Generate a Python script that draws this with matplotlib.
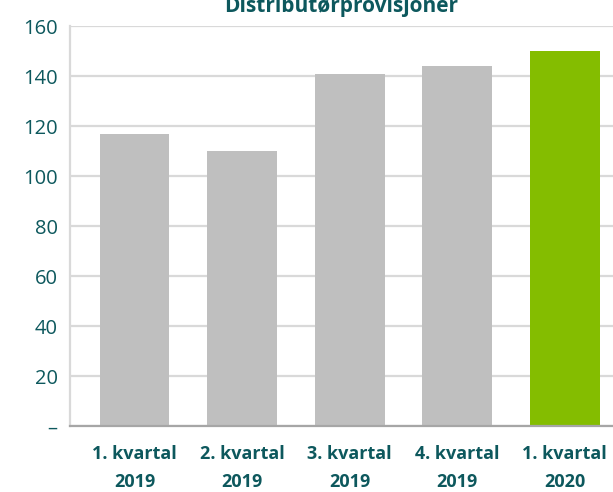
import numpy as np
import matplotlib.pyplot as plt

plt.rcParams['font.family'] = ['Open Sans', 'DejaVu Sans']

kvartaler = ['1. kvartal\n2019', '2. kvartal\n2019', '3. kvartal\n2019',
             '4. kvartal\n2019', '1. kvartal\n2020']
provisjoner = [117, 110, 141, 144, 150]
farger = ['#bfbfbf', '#bfbfbf', '#bfbfbf', '#bfbfbf', '#84bd00']
yticks = [0, 20, 40, 60, 80, 100, 120, 140, 160]
ylabels = ['–', '20', '40', '60', '80', '100', '120', '140', '160']

tekst = '#0d585d'

fig = plt.figure(figsize=(6.13, 4.92), dpi=100)
ax = fig.add_axes([70 / 613, 66 / 492, 1 - 70 / 613, 400 / 492])

x = np.arange(len(provisjoner))
ax.bar(x, provisjoner, width=0.65, color=farger, zorder=3)

ax.set_xlim(-0.6, 4.45)
ax.set_ylim(0, 160)
ax.set_yticks(yticks)
ax.set_yticklabels(ylabels, color=tekst, fontsize=14.5)
ax.set_xticks(x)
ax.set_xticklabels(kvartaler, color=tekst, fontsize=13, fontweight='bold',
                   linespacing=1.7)
ax.tick_params(axis='both', length=0)
ax.tick_params(axis='y', pad=9)
ax.tick_params(axis='x', pad=14)

ax.grid(axis='y', color='#d9d9d9', linewidth=1.6, zorder=0)
for s in ['top', 'right']:
    ax.spines[s].set_visible(False)
ax.spines['left'].set_color('#d9d9d9')
ax.spines['left'].set_linewidth(1.6)
ax.spines['bottom'].set_color('#a6a6a6')
ax.spines['bottom'].set_linewidth(1.6)
ax.spines['bottom'].set_zorder(4)

fig.text(0.5 + 35 / 613, 0.987, 'Distributørprovisjoner', ha='center', va='center',
         color=tekst, fontsize=15, fontweight='bold')

fig.savefig('out.png', dpi=100)
